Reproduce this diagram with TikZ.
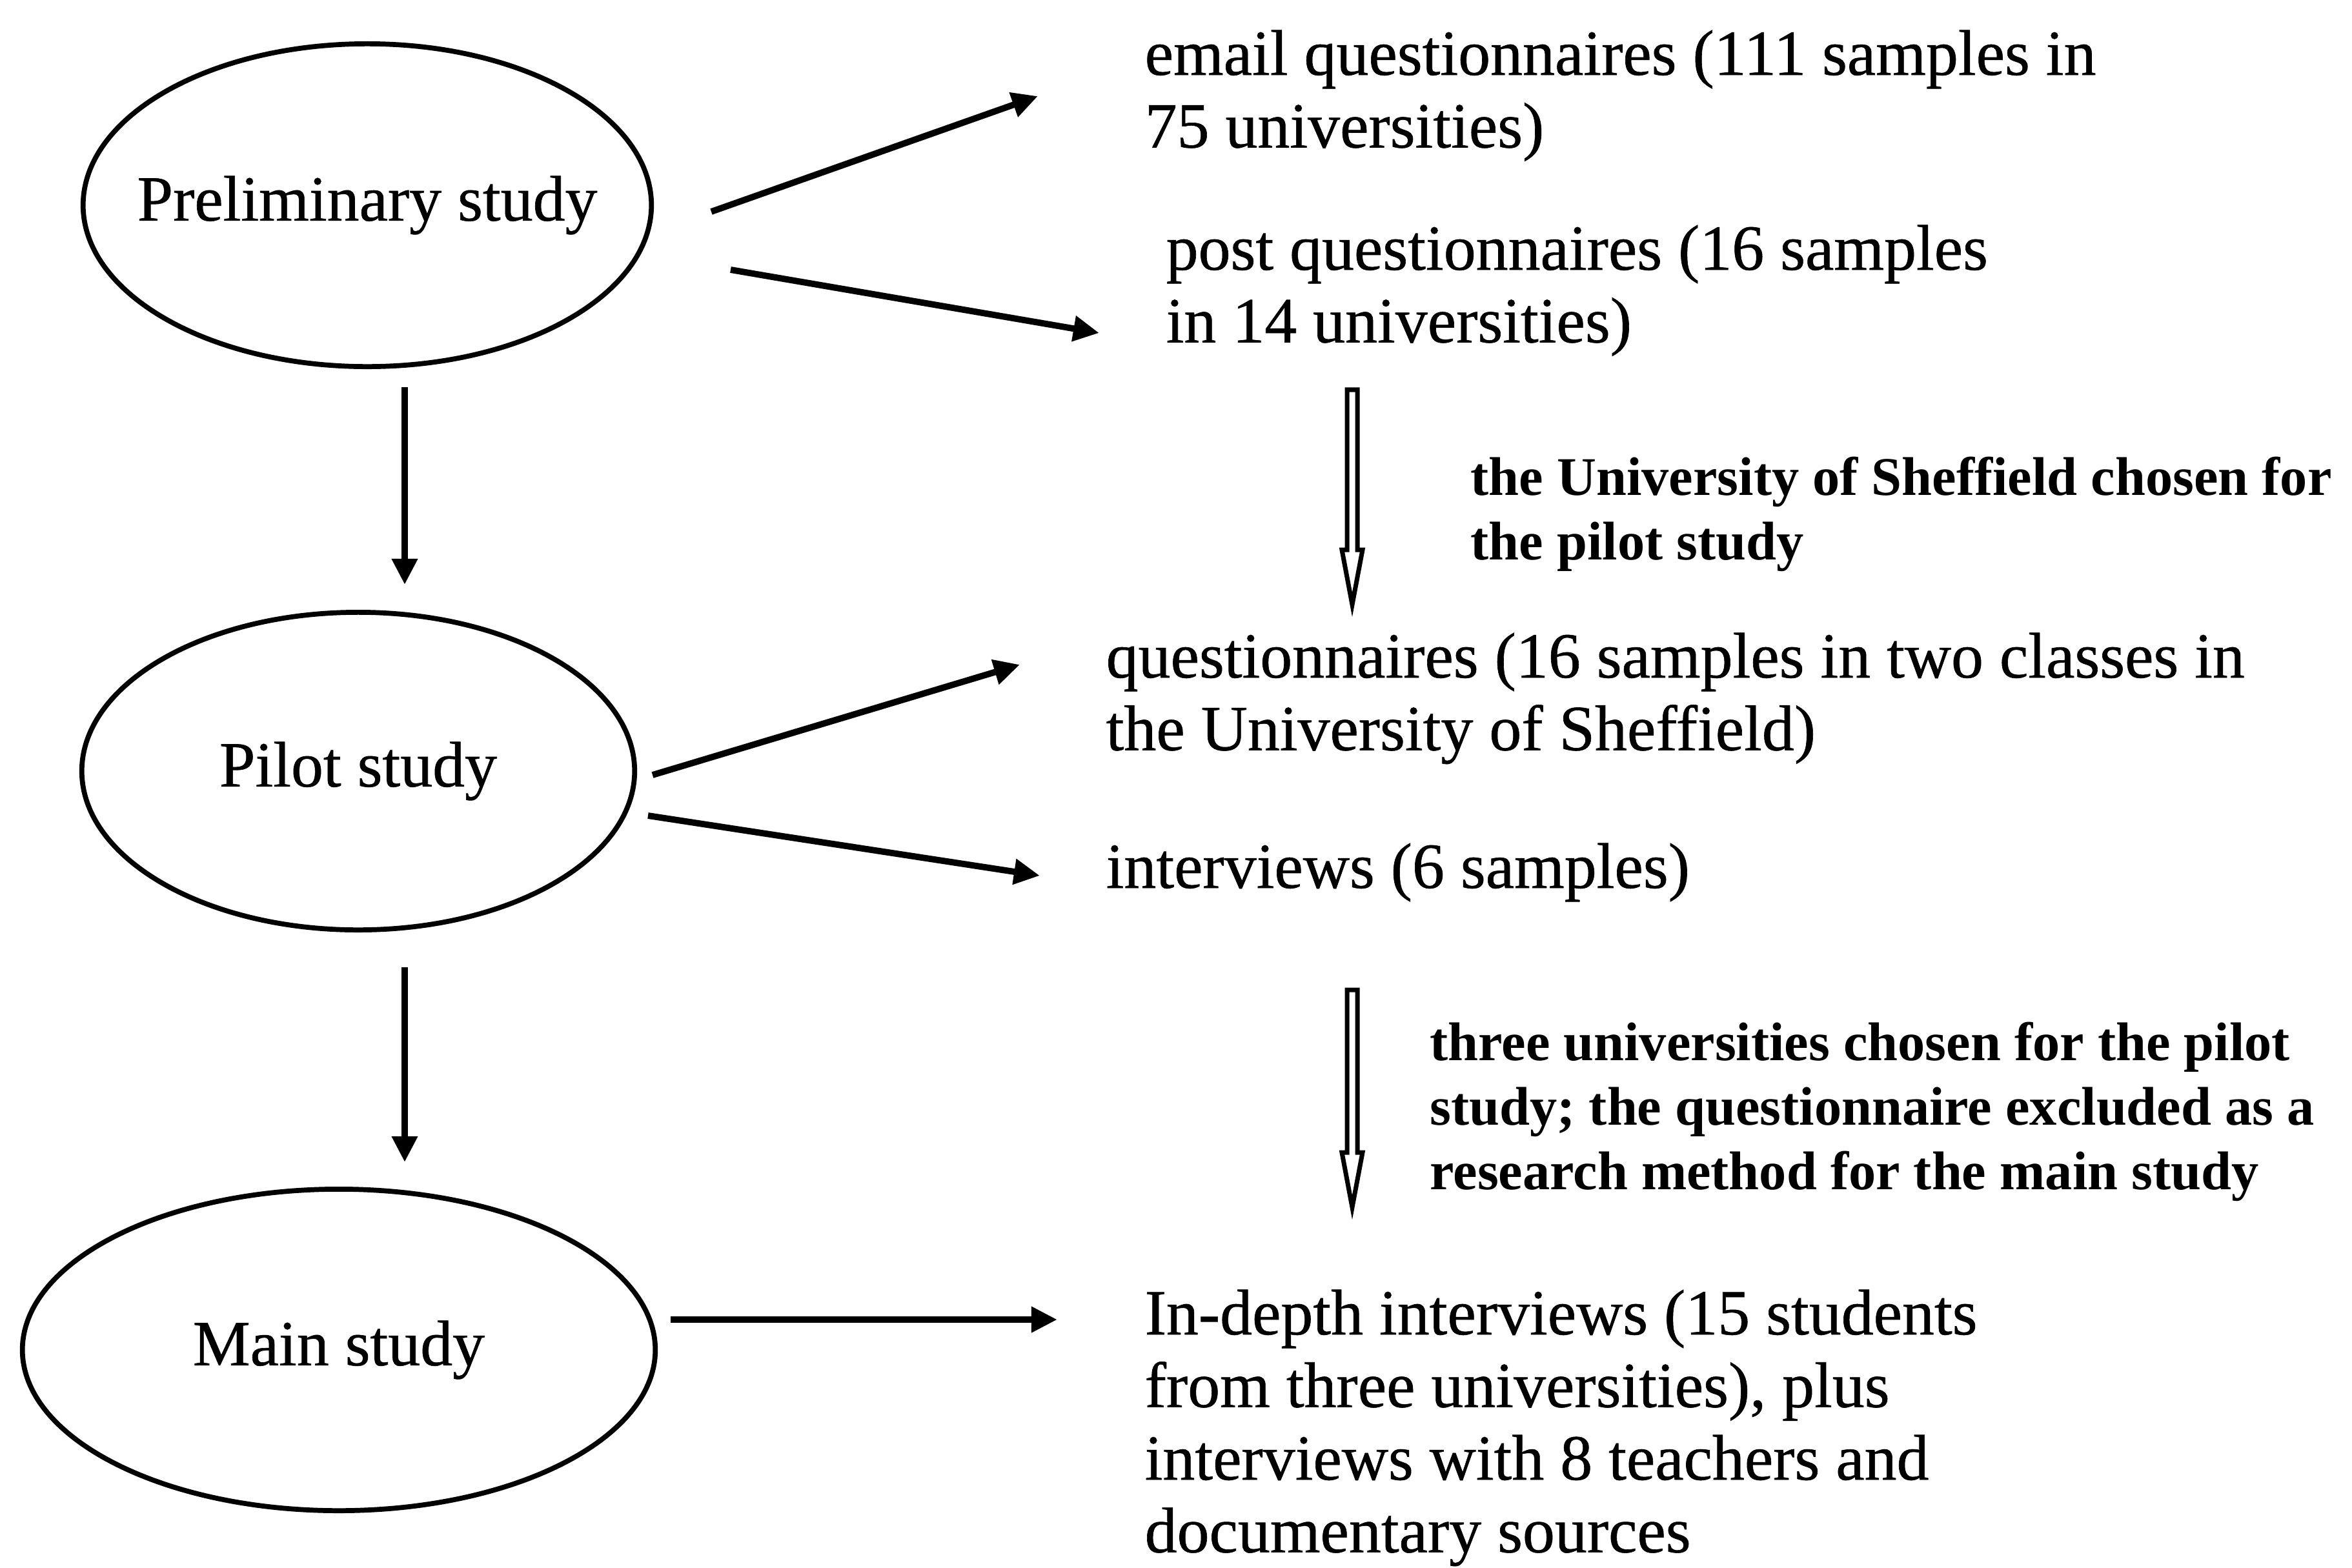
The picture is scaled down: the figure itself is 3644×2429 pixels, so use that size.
\documentclass[tikz,border=0pt]{standalone}
\usepackage{fontspec}
\setmainfont{Liberation Serif}
\newfontfamily\heavyserif{Liberation Serif}[FakeBold=0.6]
\usetikzlibrary{arrows.meta,calc,shapes.geometric}
% left-aligned block of lines whose baseline is that of its first line
\newcommand\stackedlines[1]{\vtop{\halign{##\hfil\cr#1\crcr}}}

\begin{document}
\begin{tikzpicture}[x=0.01cm,y=-0.01cm,
  stage/.style={ellipse, draw, line width=2.2pt, inner sep=0pt,
    font={\heavyserif\fontsize{28.4}{32}\selectfont}},
  info/.style={anchor=base west, inner sep=0pt,
    font={\heavyserif\fontsize{28.4}{32}\selectfont}},
  note/.style={anchor=base west, inner sep=0pt,
    font={\bfseries\fontsize{24}{28.5}\selectfont}},
  arr/.style={line width=2.8pt, -{Triangle[length=0.4cm,width=0.38cm]}},
  hollow/.style={line width=2pt, line join=miter, fill=white}]

\useasboundingbox (0,0) rectangle (3644,2429);

% stages (text boxed at zero width so the ellipse size is set by the minimum sizes)
\node[stage, minimum width=8.8cm, minimum height=5.0cm] (prelim) at (569,318) {\makebox[0pt]{Preliminary study}};
\node[stage, minimum width=8.56cm, minimum height=4.92cm] (pilot) at (555,1195) {\makebox[0pt]{Pilot study}};
\node[stage, minimum width=9.8cm, minimum height=4.98cm] (main) at (525,2092) {\makebox[0pt]{Main study}};

% outcomes
\node[info] (email) at (1773,116) {\stackedlines{email questionnaires (111 samples in\cr 75 universities)}};
\node[info] (post) at (1806,418) {\stackedlines{post questionnaires (16 samples\cr in 14 universities)}};
\node[info] (quest) at (1713,1050) {\stackedlines{questionnaires (16 samples in two classes in\cr the University of Sheffield)}};
\node[info] (interv) at (1713,1376) {interviews (6 samples)};
\node[info] (indepth) at (1773,2068) {\stackedlines{In-depth interviews (15 students\cr from three universities), plus\cr interviews with 8 teachers and\cr documentary sources}};

% transition notes
\node[note] (sheff) at (2278,767) {\stackedlines{the University of Sheffield chosen for\cr the pilot study}};
\node[note] (three) at (2215,1643) {\stackedlines{three universities chosen for the pilot\cr study; the questionnaire excluded as a\cr research method for the main study}};

% connector ends
\coordinate (p1) at (1102,328);  \coordinate (e1) at (1608,149);
\coordinate (p2) at (1132,418);  \coordinate (e2) at (1703,516);
\coordinate (q1) at (1011,1201); \coordinate (f1) at (1580,1030);
\coordinate (q2) at (1004,1264); \coordinate (f2) at (1611,1357);
\coordinate (m1) at (1039,2045); \coordinate (g1) at (1638,2045);
\coordinate (d1) at (627,600);   \coordinate (d1e) at (627,906);
\coordinate (d2) at (627,1499);  \coordinate (d2e) at (627,1801);
\coordinate (h1) at (2095,604);  \coordinate (h1e) at (2095,937);
\coordinate (h2) at (2095,1534); \coordinate (h2e) at (2095,1871);

% stage to outcome arrows
\draw[arr] (p1) -- (e1);
\draw[arr] (p2) -- (e2);
\draw[arr] (q1) -- (f1);
\draw[arr] (q2) -- (f2);
\draw[arr] (m1) -- (g1);

% stage to stage arrows
\draw[arr] (d1) -- (d1e);
\draw[arr] (d2) -- (d2e);

% hollow selection arrows
\foreach \s/\e in {h1/h1e, h2/h2e}{
  \draw[hollow] ($(\s)+(-8,0)$) -- ($(\e)+(-8,-85)$) -- ($(\e)+(-16,-85)$)
    -- (\e) -- ($(\e)+(16,-85)$) -- ($(\e)+(8,-85)$) -- ($(\s)+(8,0)$) -- cycle;
}
\end{tikzpicture}
\end{document}
